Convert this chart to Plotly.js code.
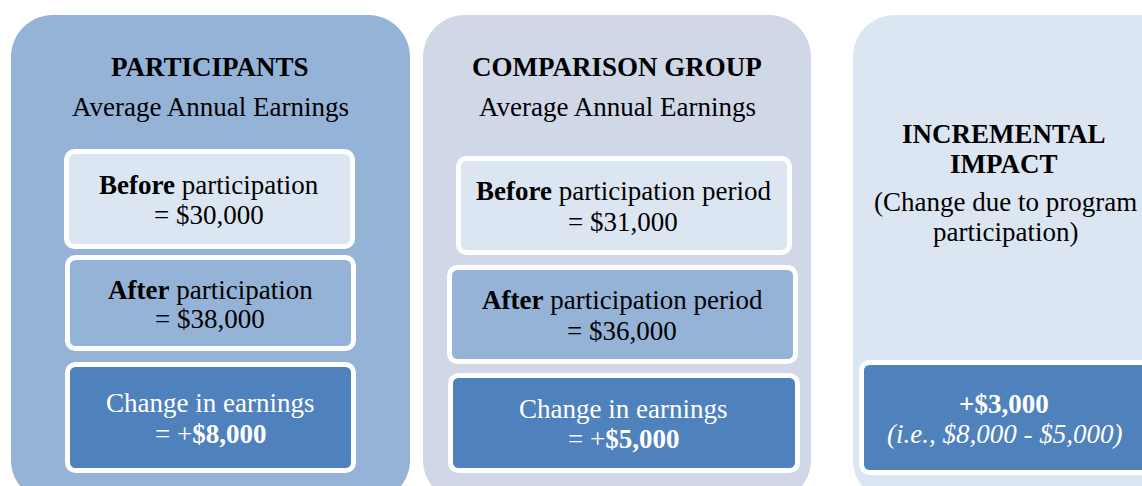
<!DOCTYPE html>
<html>
<head>
<meta charset="utf-8">
<script src="https://cdn.plot.ly/plotly-3.0.1.min.js"></script>
<style>
html,body{margin:0;padding:0;background:#fff;}
#chart{width:1142px;height:486px;}
</style>
</head>
<body>
<div id="chart"></div>
<script>
// ---- data ----
const groups = ['PARTICIPANTS', 'COMPARISON GROUP'];
const subtitle = 'Average Annual Earnings';
const beforeLabels = ['participation', 'participation period'];
const afterLabels = ['participation', 'participation period'];
const beforeEarnings = [30000, 31000];
const afterEarnings = [38000, 36000];
const changeEarnings = [8000, 5000];
const impactTitle = ['INCREMENTAL', 'IMPACT'];
const impactNote = ['(Change due to program', 'participation)'];
const impactValue = 3000;

// ---- styling / geometry ----
const FONT = '"Liberation Serif", "Times New Roman", serif';
const FS = 27;
const C_MID = '#95B3D7', C_GREY = '#D0D8E8', C_LIGHT = '#DCE6F2', C_DARK = '#4F81BD';

function money(v){ return '$' + v.toLocaleString('en-US'); }

function rrect(x0, y0, x1, y1, r){
  const k = 0.5523 * r;
  return `M${x0 + r},${y0} L${x1 - r},${y0} C${x1 - r + k},${y0} ${x1},${y0 + r - k} ${x1},${y0 + r} ` +
         `L${x1},${y1 - r} C${x1},${y1 - r + k} ${x1 - r + k},${y1} ${x1 - r},${y1} ` +
         `L${x0 + r},${y1} C${x0 + r - k},${y1} ${x0},${y1 - r + k} ${x0},${y1 - r} ` +
         `L${x0},${y0 + r} C${x0},${y0 + r - k} ${x0 + r - k},${y0} ${x0 + r},${y0} Z`;
}

const shapes = [];
function panel(x0, x1, color){
  shapes.push({type:'path', xref:'x', yref:'y', path: rrect(x0, 15, x1, 502, 42),
    fillcolor: color, line:{width:0}, layer:'below'});
}
function box(x0, y0, x1, y1, color){
  const b = 2.5;
  shapes.push({type:'path', xref:'x', yref:'y', path: rrect(x0 + b, y0 + b, x1 - b, y1 - b, 8),
    fillcolor: color, line:{color:'#FFFFFF', width:5}, layer:'below'});
}

panel(11, 410, C_MID);
panel(423, 811, C_GREY);
panel(853, 1200, C_LIGHT);

const boxes = [
  [[64,149,355,249],[65,255,356,351],[65,362,356,473]],
  [[456,156,792,255],[447,265,798,364],[448,373,800,473]]
];
boxes.forEach(g => {
  box(...g[0], C_LIGHT);
  box(...g[1], C_MID);
  box(...g[2], C_DARK);
});
box(859, 360, 1190, 475, C_DARK);

const annotations = [];
function txt(x, y, text, color){
  annotations.push({x, y, xref:'x', yref:'y', text, showarrow:false,
    xanchor:'center', yanchor:'middle',
    font:{family:FONT, size:FS, color: color || '#000000'}});
}

const textPos = [
  {cx:210, title:67, sub:107, b:[209,185,215], a:[210,290,319], c:[210,403,434]},
  {cx:617, title:67, sub:107, b:[623,191,222], a:[622,300,331], c:[623,409,439]}
];
groups.forEach((g, i) => {
  const p = textPos[i];
  txt(p.cx, p.title, '<b>' + g + '</b>');
  txt(p.cx, p.sub, subtitle);
  txt(p.b[0], p.b[1], '<b>Before</b> ' + beforeLabels[i]);
  txt(p.b[0], p.b[2], '= ' + money(beforeEarnings[i]));
  txt(p.a[0], p.a[1], '<b>After</b> ' + afterLabels[i]);
  txt(p.a[0], p.a[2], '= ' + money(afterEarnings[i]));
  txt(p.c[0], p.c[1], 'Change in earnings', '#FFFFFF');
  txt(p.c[0], p.c[2], '= +<b>' + money(changeEarnings[i]) + '</b>', '#FFFFFF');
});

txt(1004, 134, '<b>' + impactTitle[0] + '</b>');
txt(1004, 164, '<b>' + impactTitle[1] + '</b>');
txt(1005, 202, impactNote[0]);
txt(1005, 232, impactNote[1]);
txt(1004, 404, '<b>+' + money(impactValue) + '</b>', '#FFFFFF');
txt(1004, 434, '<i>(i.e., ' + money(changeEarnings[0]) + ' - ' + money(changeEarnings[1]) + ')</i>', '#FFFFFF');

const layout = {
  width: 1142, height: 486,
  margin: {l:0, r:0, t:0, b:0, pad:0},
  paper_bgcolor: '#FFFFFF', plot_bgcolor: '#FFFFFF',
  showlegend: false,
  xaxis: {range:[0,1142], visible:false, fixedrange:true},
  yaxis: {range:[486,0], visible:false, fixedrange:true},
  shapes, annotations
};

Plotly.newPlot('chart', [{x:[], y:[], type:'scatter', hoverinfo:'skip'}], layout,
  {staticPlot:true, displayModeBar:false});
</script>
</body>
</html>
